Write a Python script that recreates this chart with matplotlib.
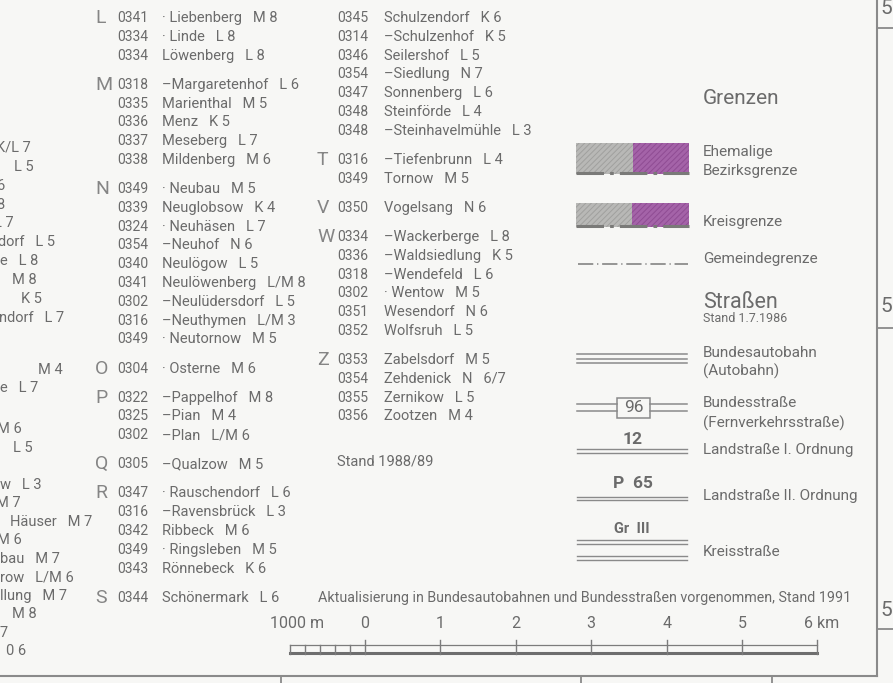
import matplotlib.pyplot as plt
from matplotlib.patches import Rectangle

plt.rcParams['font.family'] = ['Roboto', 'DejaVu Sans']
plt.rcParams['hatch.linewidth'] = 0.7

# ---- place-name index, column 1 ----
col1_letters = ['L', '', '', 'M', '', '', '', '', 'N', '', '', '', '', '', '', '', '',
                'O', 'P', '', '', 'Q', 'R', '', '', '', '', 'S']
col1_codes = ['0341', '0334', '0334', '0318', '0335', '0336', '0337', '0338', '0349', '0339',
              '0324', '0354', '0340', '0341', '0302', '0316', '0349', '0304', '0322', '0325',
              '0302', '0305', '0347', '0316', '0342', '0349', '0343', '0344']
col1_names = ['· Liebenberg', '· Linde', 'Löwenberg', '–Margaretenhof', 'Marienthal', 'Menz',
              'Meseberg', 'Mildenberg', '· Neubau', 'Neuglobsow', '· Neuhäsen', '–Neuhof',
              'Neulögow', 'Neulöwenberg', '–Neulüdersdorf', '–Neuthymen', '· Neutornow',
              '· Osterne', '–Pappelhof', '–Pian', '–Plan', '–Qualzow', '· Rauschendorf',
              '–Ravensbrück', 'Ribbeck', '· Ringsleben', 'Rönnebeck', 'Schönermark']
col1_refs = ['M 8', 'L 8', 'L 8', 'L 6', 'M 5', 'K 5', 'L 7', 'M 6', 'M 5', 'K 4', 'L 7', 'N 6',
             'L 5', 'L/M 8', 'L 5', 'L/M 3', 'M 5', 'M 6', 'M 8', 'M 4', 'L/M 6', 'M 5', 'L 6',
             'L 3', 'M 6', 'M 5', 'K 6', 'L 6']

# ---- place-name index, column 2 ----
col2_letters = ['', '', '', '', '', '', '', 'T', '', 'V', 'W', '', '', '', '', '', 'Z', '', '', '']
col2_codes = ['0345', '0314', '0346', '0354', '0347', '0348', '0348', '0316', '0349', '0350',
              '0334', '0336', '0318', '0302', '0351', '0352', '0353', '0354', '0355', '0356']
col2_names = ['Schulzendorf', '–Schulzenhof', 'Seilershof', '–Siedlung', 'Sonnenberg',
              'Steinförde', '–Steinhavelmühle', '–Tiefenbrunn', 'Tornow', 'Vogelsang',
              '–Wackerberge', '–Waldsiedlung', '–Wendefeld', '· Wentow', 'Wesendorf',
              'Wolfsruh', 'Zabelsdorf', 'Zehdenick', 'Zernikow', 'Zootzen']
col2_refs = ['K 6', 'K 5', 'L 5', 'N 7', 'L 6', 'L 4', 'L 3', 'L 4', 'M 5', 'N 6', 'L 8', 'K 5',
             'L 6', 'M 5', 'N 6', 'L 5', 'M 5', 'N   6/7', 'L 5', 'M 4']

# ends of the previous (cut off) index column
frag_text = ['K/L 7', 'L 5', '6', '8', 'L 7', 'dorf   L 5', 'e   L 8', 'M 8', 'K 5',
             'ndorf   L 7', 'M 4', 'e   L 7', 'M 6', 'L 5', 'w   L 3', 'M 7',
             'Häuser   M 7', 'M 6', 'bau   M 7', 'row   L/M 6', 'llung   M 7', 'M 8', '7', '0 6']
frag_x = [-4, 14, -3, -4, -6, -2, 0, 12, 21, -1, 38, 0, -3, 13, 0, -4, 10, -3, 0, 0, 0, 12, 0, 6]
frag_y = [148, 167, 186, 205, 223, 242, 261, 280, 299, 318, 370, 388, 429, 448, 485, 503,
          522, 540, 559, 577, 596, 614, 633, 651]

# scale bar (km)
scale_km = [0, 1, 2, 3, 4, 5, 6]
scale_sub = [-1, -0.8, -0.6, -0.4, -0.2]
scale_labels = ['1000 m', '0', '1', '2', '3', '4', '5', '6 km']
scale_label_km = [-0.9, 0, 1, 2, 3, 4, 5, 6.05]

TXT = '#6b6b6b'
LINE = '#8a8a8a'
FS = 10.5      # index text
FL = 11        # legend text

fig = plt.figure(figsize=(8.93, 6.83), dpi=100)
fig.patch.set_facecolor('#f7f7f5')
ax = fig.add_axes([0, 0, 1, 1])
ax.set_xlim(0, 893)
ax.set_ylim(683, 0)
ax.axis('off')


def draw_index(letters, codes, names, refs, x_letter, x_code, x_name, y0=18, step=18.8, gap=10.3):
    y = y0
    for i in range(len(codes)):
        if i > 0:
            y += step
            if letters[i]:
                y += gap
        if letters[i]:
            ax.text(x_letter, y, letters[i], fontsize=14, color='#858585', va='center', ha='left')
        ax.text(x_code, y, codes[i], fontsize=10, color=TXT, va='center')
        ax.text(x_name, y, names[i] + '   ' + refs[i], fontsize=FS, color=TXT, va='center')


draw_index(col1_letters, col1_codes, col1_names, col1_refs, 95, 117, 162)
draw_index(col2_letters, col2_codes, col2_names, col2_refs, 317, 337, 384)

for t, x, y in zip(frag_text, frag_x, frag_y):
    ax.text(x, y, t, fontsize=FS, color=TXT, va='center', clip_on=True)

ax.text(337, 462, 'Stand 1988/89', fontsize=FS, color=TXT, va='center')

# ---- legend: Grenzen ----
LX = 703
ax.text(LX, 99, 'Grenzen', fontsize=15, color=TXT, va='center')

for (y0, h, split, lbls) in [(143, 31, 633, [('Ehemalige', 152), ('Bezirksgrenze', 171)]),
                             (203, 24, 632, [('Kreisgrenze', 222)])]:
    ax.add_patch(Rectangle((576, y0), split - 576, h, facecolor='#b8b8b6', edgecolor='#a0a09e',
                           hatch='//////', lw=0))
    ax.add_patch(Rectangle((split, y0), 689 - split, h, facecolor='#a463a8', edgecolor='#8f4c93',
                           hatch='//////', lw=0))
    ax.plot([576, 689], [y0 + h - 1.5, y0 + h - 1.5], color='#7a7a78', lw=2.2,
            linestyle=(0, (9, 2, 1.2, 2)))
    for t, yy in lbls:
        ax.text(LX, yy, t, fontsize=FL, color=TXT, va='center')

ax.plot([578, 688], [264, 264], color='#7a7a7a', lw=1.1, linestyle=(0, (10, 2.5, 0.8, 2.5)))
ax.text(LX, 259, 'Gemeindegrenze', fontsize=FL, color=TXT, va='center')

# ---- legend: Straßen ----
ax.text(LX, 302, 'Straßen', fontsize=15.5, color=TXT, va='center')
ax.text(LX, 319, 'Stand 1.7.1986', fontsize=9, color=TXT, va='center')

for yy in [353.5, 358.5, 363]:
    ax.plot([577, 687], [yy, yy], color=LINE, lw=1.1)
ax.text(LX, 353, 'Bundesautobahn', fontsize=FL, color=TXT, va='center')
ax.text(LX, 371, '(Autobahn)', fontsize=FL, color=TXT, va='center')

for yy in [404.3, 411]:
    ax.plot([577, 617], [yy, yy], color=LINE, lw=1.1)
    ax.plot([650, 687], [yy, yy], color=LINE, lw=1.1)
ax.add_patch(Rectangle((617, 398), 33, 20, facecolor='none', edgecolor=LINE, lw=1.1))
ax.text(633.5, 408, '96', fontsize=12.5, color=TXT, va='center', ha='center')
ax.text(LX, 403, 'Bundesstraße', fontsize=FL, color=TXT, va='center')
ax.text(LX, 423, '(Fernverkehrsstraße)', fontsize=FL, color=TXT, va='center')

ax.text(633, 439, '12', fontsize=12.5, color=TXT, va='center', ha='center', weight='bold')
for yy in [449, 452.7]:
    ax.plot([577, 687], [yy, yy], color=LINE, lw=1.0)
ax.text(LX, 450, 'Landstraße I. Ordnung', fontsize=FL, color=TXT, va='center')

ax.text(633, 484, 'P  65', fontsize=12.5, color=TXT, va='center', ha='center', weight='bold')
for yy in [496.7, 500]:
    ax.plot([577, 687], [yy, yy], color=LINE, lw=1.0)
ax.text(LX, 496, 'Landstraße II. Ordnung', fontsize=FL, color=TXT, va='center')

ax.text(632, 529, 'Gr  III', fontsize=10.5, color=TXT, va='center', ha='center', weight='bold')
for yy in [539.5, 544, 556, 560]:
    ax.plot([577, 687], [yy, yy], color=LINE, lw=1.0)
ax.text(LX, 552, 'Kreisstraße', fontsize=FL, color=TXT, va='center')

ax.text(851, 598, 'Aktualisierung in Bundesautobahnen und Bundesstraßen vorgenommen, Stand 1991',
        fontsize=10.3, color=TXT, va='center', ha='right')

# ---- scale bar ----
x0, px_km = 365, 75.4


def kx(k):
    return x0 + k * px_km


ax.plot([kx(-1), kx(6)], [645, 645], color='#7c7c7c', lw=0.9)
ax.plot([kx(-1), kx(6)], [653, 653], color='#6e6e6e', lw=2.2)
for k in scale_km:
    ax.plot([kx(k), kx(k)], [640, 654], color='#7c7c7c', lw=1.0)
for k in scale_sub:
    ax.plot([kx(k), kx(k)], [645, 654], color='#7c7c7c', lw=1.0)
for t, k in zip(scale_labels, scale_label_km):
    ax.text(kx(k), 624, t, fontsize=11.5, color=TXT, va='center', ha='center')

# ---- sheet frame ----
ax.plot([0, 877], [676, 676], color=LINE, lw=1.5)
ax.plot([877, 877], [0, 676], color=LINE, lw=1.5)
for yy in [28, 328, 629]:
    ax.plot([877, 893], [yy, yy], color=LINE, lw=1.3)
for yy in [9, 307, 610]:
    ax.text(880, yy, '5', fontsize=15, color=TXT, va='center')
for xx in [281, 581, 772]:
    ax.plot([xx, xx], [676, 683], color=LINE, lw=1.3)

fig.savefig('out.png', dpi=100, facecolor=fig.get_facecolor())
